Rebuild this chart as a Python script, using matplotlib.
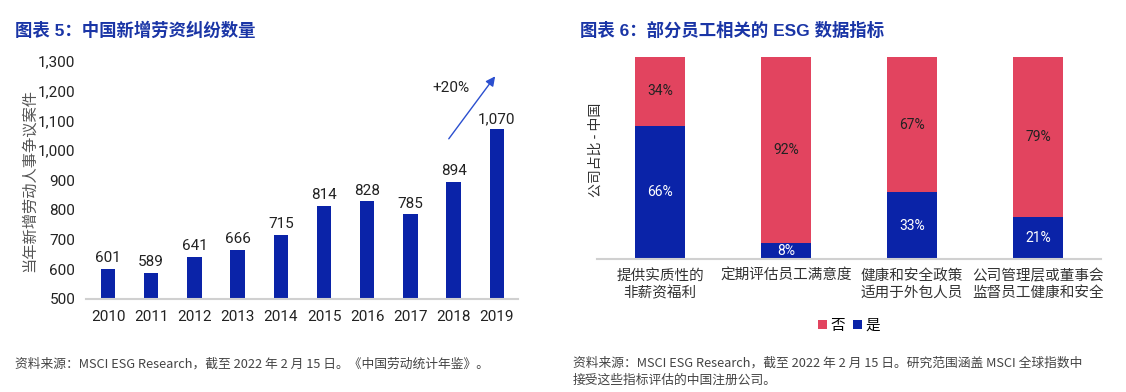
import matplotlib
matplotlib.use("Agg")
import matplotlib.pyplot as plt

years = ["2010", "2011", "2012", "2013", "2014", "2015", "2016", "2017", "2018", "2019"]
disputes = [601, 589, 641, 666, 715, 814, 828, 785, 894, 1070]
yticks = [500, 600, 700, 800, 900, 1000, 1100, 1200, 1300]

categories = ["提供实质性的\n非薪资福利", "定期评估员工满意度", "健康和安全政策\n适用于外包人员", "公司管理层或董事会\n监督员工健康和安全"]
yes_pct = [66, 8, 33, 21]
no_pct = [34, 92, 67, 79]

BLUE = "#0a23a8"
PINK = "#e2445f"
TITLE = "#1a35a6"
CJK = ["Roboto", "Noto Sans CJK SC", "DejaVu Sans"]
CJK2 = ["Noto Sans CJK SC", "DejaVu Sans"]
plt.rcParams['font.family'] = CJK

fig = plt.figure(figsize=(11.26, 3.92), dpi=100)

# Left chart
ax1 = fig.add_axes([86.4/1126, 93/392, 432/1126, 238/392])
x = range(len(years))
ax1.bar(x, disputes, width=0.33, color=BLUE, zorder=2)
for xi, v in zip(x, disputes):
    ax1.text(xi, v + 12, f"{v:,}", ha="center", va="bottom", fontsize=11, color="#222222")
ax1.set_xlim(-0.5, 9.5)
ax1.set_ylim(500, 1300)
ax1.set_yticks(yticks)
ax1.set_yticklabels([f"{t:,}" for t in yticks], fontsize=11, color="#222222")
ax1.set_xticks(list(x))
ax1.set_xticklabels(years, fontsize=11, color="#222222")
for s in ["top", "right", "left"]:
    ax1.spines[s].set_visible(False)
ax1.spines["bottom"].set_color("#d0d0d0")
ax1.spines["bottom"].set_linewidth(1.5)
ax1.tick_params(axis="both", length=0, pad=8)
fig.text(29/1126, 1 - 180/392, "当年新增劳动人事争议案件", rotation=90, fontsize=11,
         color="#555555", family=CJK2, ha="center", va="center", fontweight="light")
ax1.annotate("", xy=(9.0, 1256), xytext=(7.85, 1031),
             arrowprops=dict(arrowstyle="-|>", color="#2b4fcf", lw=1.0, mutation_scale=14))
ax1.text(7.95, 1209, "+20%", ha="center", va="center", fontsize=11, color="#222222")

# Right chart
ax2 = fig.add_axes([597/1126, 133/392, 504/1126, 202/392])
xc = range(len(categories))
ax2.bar(xc, yes_pct, width=0.4, color=BLUE, label="是", zorder=2)
ax2.bar(xc, no_pct, width=0.4, bottom=yes_pct, color=PINK, label="否", zorder=2)
for xi, y, n in zip(xc, yes_pct, no_pct):
    ax2.text(xi, y / 2, f"{y}%", ha="center", va="center", fontsize=10, color="white")
    ax2.text(xi, y + n / 2, f"{n}%", ha="center", va="center", fontsize=10, color="#222222")
ax2.set_xlim(-0.5, 3.5)
ax2.set_ylim(0, 100)
ax2.set_yticks([])
ax2.set_xticks(list(xc))
ax2.set_xticklabels(categories, fontsize=10.5, color="#333333", family=CJK2, linespacing=1.3)
for s in ["top", "right", "left"]:
    ax2.spines[s].set_visible(False)
ax2.spines["bottom"].set_color("#d0d0d0")
ax2.spines["bottom"].set_linewidth(1.5)
ax2.tick_params(axis="x", length=0, pad=7)
fig.text(596/1126, 1 - 150/392, "公司占比 - 中国", rotation=90, fontsize=10,
         color="#333333", family=CJK2, ha="center", va="center")
handles, labels = ax2.get_legend_handles_labels()
leg = ax2.legend(handles[::-1], labels[::-1], loc="center", bbox_to_anchor=(0.5, -0.33), ncol=2,
                 frameon=False, handlelength=0.6, handleheight=0.6, handletextpad=0.2,
                 columnspacing=0.6, prop={"family": CJK2, "size": 10.5})

# Titles
fig.text(15/1126, 1 - 30/392, "图表 5：中国新增劳资纠纷数量", fontsize=12.5, fontweight="bold",
         color=TITLE, va="center", ha="left", family=["Liberation Sans", "Noto Sans CJK SC"])
fig.text(580/1126, 1 - 30/392, "图表 6：部分员工相关的 ESG 数据指标", fontsize=12.5, fontweight="bold",
         color=TITLE, va="center", ha="left", family=["Liberation Sans", "Noto Sans CJK SC"])

# Footnotes
fig.text(15/1126, 1 - 364/392, "资料来源：MSCI ESG Research，截至 2022 年 2 月 15 日。《中国劳动统计年鉴》。",
         fontsize=9.2, color="#444444", va="center", ha="left", family=CJK2)
fig.text(573/1126, 1 - 372/392,
         "资料来源：MSCI ESG Research，截至 2022 年 2 月 15 日。研究范围涵盖 MSCI 全球指数中\n接受这些指标评估的中国注册公司。",
         fontsize=9.2, color="#444444", va="center", ha="left", family=CJK2, linespacing=1.45)

fig.savefig("out.png", dpi=100)
